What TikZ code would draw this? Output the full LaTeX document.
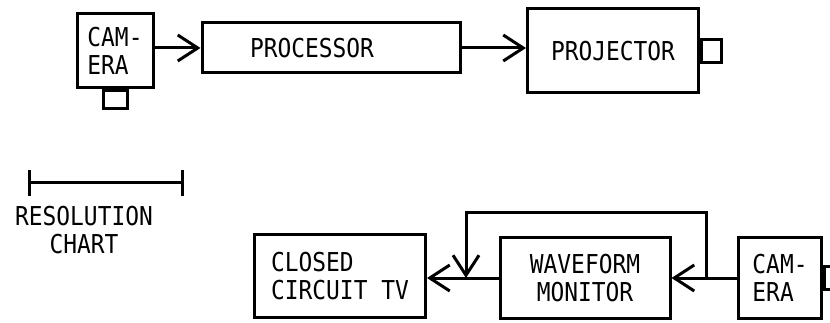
\documentclass[tikz,border=0pt]{standalone}
\usepackage{fontspec}
\setmonofont{DejaVu Sans Mono}[FakeStretch=0.88]
\usetikzlibrary{arrows.meta}

\begin{document}
\begin{tikzpicture}[x=1pt,y=-1pt,line width=3pt,
    >={Straight Barb[length=20pt,width=26pt]},
    font=\ttfamily\fontsize{26}{28}\selectfont,
    box/.style={draw,inner sep=0pt},
    lens/.style={draw,inner sep=0pt}]
    \useasboundingbox (0,0) rectangle (830,323);
    % top row
    \node[box,minimum width=76,minimum height=74,align=left] (cam1) at (115,51) {CAM-\\ERA};
    \node[lens,minimum width=24,minimum height=18,anchor=north] (lens1) at (cam1.south) {};
    \node[box,minimum width=258,minimum height=50] (proc) at (331,48) {PROCESSOR\hspace*{38pt}};
    \node[box,minimum width=171,minimum height=84] (proj) at (613,51) {PROJECTOR};
    \node[lens,minimum width=20,minimum height=23,anchor=west] (lens2) at (proj.east) {};
    \draw[->] (cam1.east |- proc.west) -- (proc.west);
    \draw[->] (proc.east) -- (proc.east -| proj.west);
    % chart
    \draw[{Bar[width=26pt]}-{Bar[width=26pt]}] (28,183) -- (184,183);
    \node[align=center] (chart) at (84,230) {RESOLUTION\\CHART};
    % bottom row
    \node[box,minimum width=171,minimum height=82,align=left] (cctv) at (340,276) {CLOSED\\CIRCUIT TV};
    \node[box,minimum width=170,minimum height=80,align=center] (wave) at (585,278) {WAVEFORM\\MONITOR};
    \node[box,minimum width=83,minimum height=81,align=left] (cam2) at (780,278) {CAM-\\ERA};
    \node[lens,minimum width=20,minimum height=23,anchor=west] (lens3) at (cam2.east) {};
    \coordinate (tap) at (706,278);
    \coordinate (join) at (466,278);
    \draw[->] (cam2.west) -- (wave.east);
    \draw[->] (wave.west) -- (wave.west -| cctv.east);
    \draw[->] (tap) -- ++(0,-65) -| (join);
\end{tikzpicture}
\end{document}
